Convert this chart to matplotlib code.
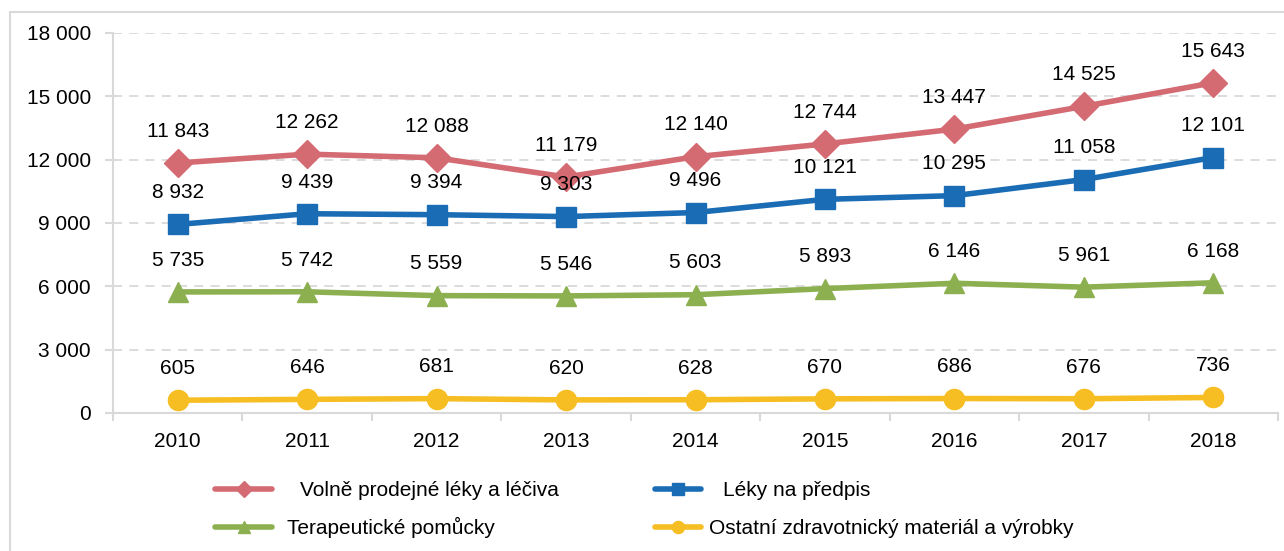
import matplotlib
matplotlib.use("Agg")
import matplotlib.pyplot as plt
from matplotlib.patches import Rectangle
from matplotlib.ticker import FuncFormatter, FixedLocator

plt.rcParams["font.family"] = ["Liberation Sans", "DejaVu Sans"]

years = [2010, 2011, 2012, 2013, 2014, 2015, 2016, 2017, 2018]
volne = [11843, 12262, 12088, 11179, 12140, 12744, 13447, 14525, 15643]
predpis = [8932, 9439, 9394, 9303, 9496, 10121, 10295, 11058, 12101]
pomucky = [5735, 5742, 5559, 5546, 5603, 5893, 6146, 5961, 6168]
ostatni = [605, 646, 681, 620, 628, 670, 686, 676, 736]

series = [
    ("Volně prodejné léky a léčiva", volne, "#D46A72", "D", 14),
    ("Léky na předpis", predpis, "#1A6CB4", "s", 14.5),
    ("Terapeutické pomůcky", pomucky, "#8CB050", "^", 15),
    ("Ostatní zdravotnický materiál a výrobky", ostatni, "#F6BE22", "o", 14.5),
]
# legend placement (px): handle start x, box bottom y, handle length, text gap
legend_pos = [(215, 500, 2.75, 1.35), (655, 500, 2.2, 1.05),
              (215, 538, 2.75, 0.72), (655, 538, 2.2, 0.38)]


def fmt(v):
    return f"{int(v):,}".replace(",", " ")


W, H = 1284, 551
fig = plt.figure(figsize=(W / 100, H / 100), dpi=100)
fig.patches.append(Rectangle((10 / W, -0.1), 1.2, 1 - 12 / H + 0.1,
                             transform=fig.transFigure, fill=False,
                             edgecolor="#D9D9D9", linewidth=1.5))

ax = fig.add_axes([113 / W, (H - 413) / H, (1278 - 113) / W, (413 - 33) / H])
x = list(range(len(years)))

lines = []
for label, vals, color, marker, ms in series:
    ln, = ax.plot(x, vals, color=color, lw=4, marker=marker, ms=ms,
                  solid_capstyle="round", label=label, clip_on=False, zorder=3)
    lines.append(ln)
    for xi, v in zip(x, vals):
        ax.annotate(fmt(v), (xi, v), xytext=(0, 16), textcoords="offset points",
                    ha="center", va="bottom", fontsize=15, color="#000000")

ax.set_xlim(-0.5, len(years) - 0.5)
ax.set_ylim(0, 18000)
ax.set_yticks(range(0, 18001, 3000))
ax.yaxis.set_major_formatter(FuncFormatter(lambda v, p: fmt(v)))
ax.set_xticks(x)
ax.set_xticklabels([str(y) for y in years])
ax.xaxis.set_minor_locator(FixedLocator([i - 0.5 for i in range(len(years) + 1)]))
ax.tick_params(axis="x", which="major", length=0, pad=14, labelsize=15)
ax.tick_params(axis="x", which="minor", length=6, color="#D9D9D9", width=1.5)
ax.tick_params(axis="y", length=6, color="#D9D9D9", width=1.5, pad=10, labelsize=15)

ax.grid(axis="y", color="#D9D9D9", linestyle=(0, (5, 4)), linewidth=1.3)
ax.set_axisbelow(True)
for side in ("top", "right"):
    ax.spines[side].set_visible(False)
for side in ("left", "bottom"):
    ax.spines[side].set_color("#D9D9D9")
    ax.spines[side].set_linewidth(1.5)

# one small legend per entry so the rows line up exactly
for ln, (label, *_), (px, py, hl, gap) in zip(lines, series, legend_pos):
    leg = fig.legend([ln], [label], loc="lower left",
                     bbox_to_anchor=(px / W, 1 - py / H), frameon=False,
                     fontsize=15, handlelength=hl, handletextpad=gap,
                     borderpad=0, borderaxespad=0, markerscale=0.6)

fig.savefig("out.png", dpi=100)
